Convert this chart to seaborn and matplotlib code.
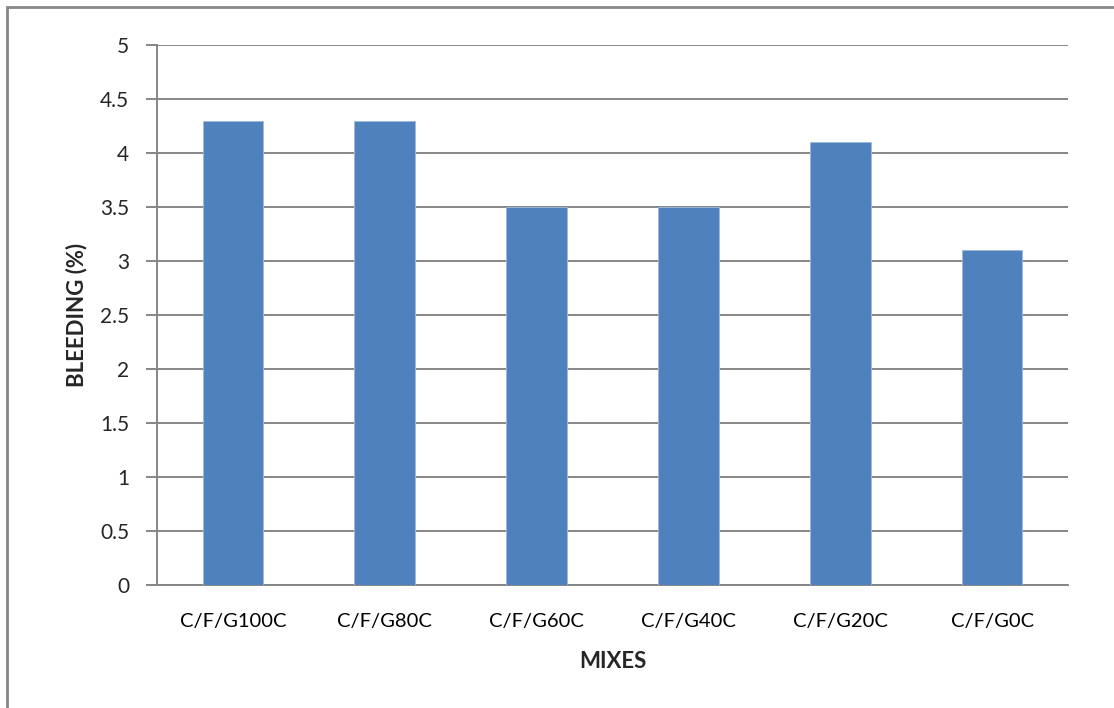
import matplotlib
matplotlib.use("Agg")
import matplotlib.pyplot as plt
import seaborn as sns
import pandas as pd
from matplotlib.patches import Rectangle

mixes = ["C/F/G100C", "C/F/G80C", "C/F/G60C", "C/F/G40C", "C/F/G20C", "C/F/G0C"]
bleeding = [4.3, 4.3, 3.5, 3.5, 4.1, 3.1]
y_ticks = [0, 0.5, 1, 1.5, 2, 2.5, 3, 3.5, 4, 4.5, 5]
y_tick_labels = ["0", "0.5", "1", "1.5", "2", "2.5", "3", "3.5", "4", "4.5", "5"]

sns.set_theme(style="white")
plt.rcParams["font.family"] = ["Lato", "DejaVu Sans"]

df = pd.DataFrame({"mix": mixes, "bleeding": bleeding})

fig = plt.figure(figsize=(11.14, 7.08), dpi=100)
ax = fig.add_axes([157 / 1114, 1 - 585 / 708, (1068 - 157) / 1114, (585 - 45) / 708])

grid_color = "#868686"
sns.barplot(data=df, x="mix", y="bleeding", color="#4F81BD", saturation=1,
            width=0.4, edgecolor="#9DBBE0", linewidth=0.6, ax=ax, zorder=3)

ax.set_ylim(0, 5)
ax.set_xlim(-0.5, len(mixes) - 0.5)
ax.set_yticks(y_ticks)
ax.set_yticklabels(y_tick_labels)
ax.yaxis.grid(True, color=grid_color, linewidth=1.4, zorder=0)
ax.set_axisbelow(True)

# Category-boundary ticks on the x axis
ax.set_xticks(range(len(mixes)))
ax.set_xticklabels(mixes)
ax.tick_params(axis="x", length=0, pad=20, labelsize=14.5, colors="black")
bounds = [i - 0.5 for i in range(len(mixes) + 1)]
ax.set_xticks(bounds, minor=True)
ax.tick_params(axis="x", which="minor", direction="out", length=7, width=1.4, color=grid_color)
ax.tick_params(axis="y", direction="out", length=8, width=1.4, color=grid_color,
               labelsize=15, pad=12, left=True)

for side in ["top", "right"]:
    ax.spines[side].set_visible(False)
for side in ["left", "bottom"]:
    ax.spines[side].set_color(grid_color)
    ax.spines[side].set_linewidth(1.4)

ax.set_xlabel("MIXES", fontsize=16, fontweight="bold", labelpad=15)
ax.set_ylabel("BLEEDING (%)", fontsize=16, fontweight="bold", labelpad=9)

# Outer chart-area border
fig.patches.append(Rectangle((7 / 1114, -0.05), 1.2, 1 - 7 / 708 + 0.05,
                             transform=fig.transFigure, fill=False,
                             edgecolor="#878787", linewidth=2))

fig.savefig("out.png", dpi=100)
